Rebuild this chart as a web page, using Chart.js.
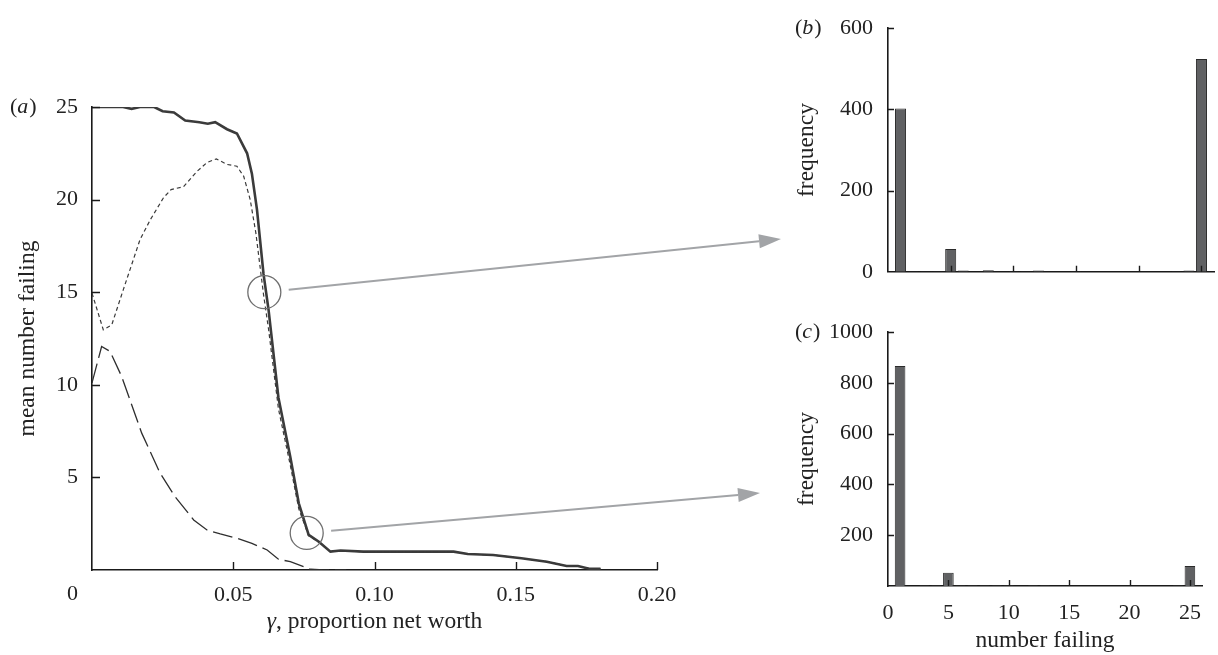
<!DOCTYPE html>
<html>
<head>
<meta charset="utf-8">
<script src="https://cdn.jsdelivr.net/npm/chart.js@4.4.1/dist/chart.umd.min.js"></script>
<style>
  html, body { margin: 0; padding: 0; background: #fff; }
  #wrap { position: relative; width: 1218px; height: 655px; overflow: hidden; }
  canvas { position: absolute; }
  #chart-a { left: 0; top: 0; }
  #chart-b { left: 760px; top: 0; }
  #chart-c { left: 760px; top: 300px; }
</style>
</head>
<body>
<div id="wrap">
  <canvas id="chart-a" width="1218" height="655"></canvas>
  <canvas id="chart-b" width="458" height="300"></canvas>
  <canvas id="chart-c" width="458" height="355"></canvas>
</div>
<script>
// (a) mean number failing against gamma, three curves
const gammaSolid = [0, 0.011, 0.014, 0.017, 0.022, 0.025, 0.029, 0.033, 0.038, 0.041, 0.0436, 0.0478, 0.0513, 0.0549, 0.0566, 0.0584, 0.0607, 0.0625, 0.066, 0.0702, 0.0732, 0.0767, 0.0803, 0.0844, 0.088, 0.096, 0.128, 0.133, 0.142, 0.152, 0.161, 0.168, 0.172, 0.176, 0.18];
const meanSolid = [25, 25, 24.9, 25, 25, 24.77, 24.7, 24.27, 24.18, 24.1, 24.18, 23.8, 23.57, 22.5, 21.4, 19.46, 16.0, 14.05, 9.3, 6.1, 3.6, 1.9, 1.53, 0.99, 1.05, 0.99, 0.99, 0.86, 0.81, 0.63, 0.45, 0.22, 0.22, 0.07, 0.07];

// short dashes; past 0.08 it runs under the solid curve
const gammaShort = [0, 0.004, 0.007, 0.011, 0.017, 0.0206, 0.0253, 0.028, 0.0324, 0.037, 0.0407, 0.044, 0.0478, 0.0513, 0.0537, 0.056, 0.058, 0.0607, 0.0625, 0.066, 0.0702, 0.0732, 0.0767, 0.0803, 0.0844, 0.088, 0.096, 0.128, 0.133, 0.142, 0.152, 0.161, 0.168, 0.172, 0.176, 0.18];
const meanShort = [14.95, 12.97, 13.24, 15.1, 17.84, 18.9, 20.1, 20.54, 20.7, 21.5, 22, 22.2, 21.9, 21.8, 21.26, 20, 18.2, 14.9, 13.0, 8.7, 5.65, 3.3, 1.85, 1.5, 0.99, 1.05, 0.99, 0.99, 0.86, 0.81, 0.63, 0.45, 0.22, 0.22, 0.07, 0.07];

const gammaLong = [0, 0.0034, 0.0064, 0.0105, 0.0176, 0.0241, 0.0294, 0.036, 0.0407, 0.0454, 0.0513, 0.0566, 0.062, 0.066, 0.0702, 0.0773, 0.082, 0.09];
const meanLong = [10.1, 12.07, 11.8, 10.45, 7.39, 5.23, 3.96, 2.7, 2.16, 1.95, 1.71, 1.44, 1.08, 0.58, 0.45, 0.04, 0, 0];

// points circled on (a)
const circledGamma = [0.061, 0.076];
const circledMean = [15, 2];

// (b) and (c) histograms
const numberFailing = [1, 2, 3, 4, 5, 6, 7, 8, 9, 10, 11, 12, 13, 14, 15, 16, 17, 18, 19, 20, 21, 22, 23, 24, 25];
const freqB = [402, 1, 1, 1, 56, 3, 0, 4, 0, 1, 1, 3, 0, 0, 1, 0, 0, 0, 0, 0, 0, 0, 1, 3, 524];
const freqC = [866, 0, 2, 2, 52, 2, 2, 2, 2, 2, 0, 2, 2, 0, 0, 0, 0, 0, 0, 0, 0, 0, 0, 2, 79];

const serif = '"Liberation Serif", "Times New Roman", serif';
Chart.defaults.font.family = serif;
Chart.defaults.font.size = 22;
Chart.defaults.color = '#222';
const titleFont = { size: 23.5 };

const toPoints = (xs, ys) => xs.map((x, i) => ({ x: x, y: ys[i] }));

// draws "(" + italic letter + ")"
function panelTag(ctx, letter, x, y) {
  ctx.save();
  ctx.fillStyle = '#222';
  ctx.textBaseline = 'middle';
  ctx.textAlign = 'left';
  ctx.font = '22px ' + serif;
  ctx.fillText('(', x, y);
  let w = ctx.measureText('(').width;
  ctx.font = 'italic 22px ' + serif;
  ctx.fillText(letter, x + w, y);
  w += ctx.measureText(letter).width + 1;
  ctx.font = '22px ' + serif;
  ctx.fillText(')', x + w, y);
  ctx.restore();
}

// tick marks pointing into the plot
function innerTicks(chart, len) {
  const ctx = chart.ctx;
  const xs = chart.scales.x, ys = chart.scales.y;
  const area = chart.chartArea;
  ctx.save();
  ctx.strokeStyle = '#1a1a1a';
  ctx.lineWidth = 1.4;
  ctx.beginPath();
  xs.ticks.forEach(t => {
    if (t.value <= xs.min) return;
    const px = Math.round(xs.getPixelForValue(t.value)) + 0.5;
    ctx.moveTo(px, area.bottom);
    ctx.lineTo(px, area.bottom - len);
  });
  ys.ticks.forEach(t => {
    if (t.value <= ys.min) return;
    const py = Math.round(ys.getPixelForValue(t.value)) + 0.5;
    ctx.moveTo(area.left, py);
    ctx.lineTo(area.left + len, py);
  });
  ctx.stroke();
  ctx.restore();
}

const panelA = {
  id: 'panelA',
  afterDraw(chart) {
    const ctx = chart.ctx;
    const xs = chart.scales.x, ys = chart.scales.y;
    const area = chart.chartArea;
    innerTicks(chart, 8);
    panelTag(ctx, 'a', 10, area.top);

    ctx.save();
    ctx.fillStyle = '#222';
    ctx.font = '22px ' + serif;
    ctx.textAlign = 'right';
    ctx.textBaseline = 'middle';
    ctx.fillText('0', area.left - 14, area.bottom + 24);

    // x title with italic gamma
    const rest = ', proportion net worth';
    ctx.font = 'italic 23.5px ' + serif;
    const gw = ctx.measureText('γ').width;
    ctx.font = '23.5px ' + serif;
    const rw = ctx.measureText(rest).width;
    const x0 = (area.left + area.right) / 2 - (gw + rw) / 2;
    ctx.textAlign = 'left';
    ctx.font = 'italic 23.5px ' + serif;
    ctx.fillText('γ', x0, 622);
    ctx.font = '23.5px ' + serif;
    ctx.fillText(rest, x0 + gw, 622);

    // circles and arrows towards (b) and (c)
    const tips = [[781, 239], [760, 493]];
    const r = 16.5;
    circledGamma.forEach((g, i) => {
      const cx = xs.getPixelForValue(g), cy = ys.getPixelForValue(circledMean[i]);
      ctx.strokeStyle = '#6f6f6f';
      ctx.lineWidth = 1.3;
      ctx.beginPath();
      ctx.arc(cx, cy, r, 0, Math.PI * 2);
      ctx.stroke();

      const [tx, ty] = tips[i];
      const dx = tx - cx, dy = ty - cy, len = Math.hypot(dx, dy);
      const ux = dx / len, uy = dy / len;
      const head = 22, hw = 7;
      ctx.strokeStyle = '#a2a4a7';
      ctx.fillStyle = '#a2a4a7';
      ctx.lineWidth = 1.9;
      ctx.beginPath();
      ctx.moveTo(cx + ux * (r + 8), cy + uy * (r + 8));
      ctx.lineTo(tx - ux * head, ty - uy * head);
      ctx.stroke();
      ctx.beginPath();
      ctx.moveTo(tx, ty);
      ctx.lineTo(tx - ux * head - uy * hw, ty - uy * head + ux * hw);
      ctx.lineTo(tx - ux * head + uy * hw, ty - uy * head - ux * hw);
      ctx.closePath();
      ctx.fill();
    });
    ctx.restore();
  }
};

new Chart(document.getElementById('chart-a'), {
  type: 'line',
  data: {
    datasets: [
      { data: toPoints(gammaLong, meanLong), borderColor: '#2e2e2e', borderWidth: 1.3, borderDash: [20, 6] },
      { data: toPoints(gammaShort, meanShort), borderColor: '#3a3a3a', borderWidth: 1.2, borderDash: [4, 3] },
      { data: toPoints(gammaSolid, meanSolid), borderColor: '#3b3b3b', borderWidth: 2.6 }
    ]
  },
  options: {
    responsive: false,
    animation: false,
    elements: { point: { radius: 0 }, line: { tension: 0 } },
    layout: { padding: { left: 0, top: 107, right: 561, bottom: 0 } },
    plugins: { legend: { display: false }, tooltip: { enabled: false } },
    scales: {
      x: {
        type: 'linear', min: 0, max: 0.2,
        grid: { display: false, drawTicks: false },
        border: { color: '#1a1a1a', width: 1.6 },
        ticks: { stepSize: 0.05, padding: 12, callback: v => v === 0 ? '' : v.toFixed(2) },
        afterFit: s => { s.height = 85; }
      },
      y: {
        min: 0, max: 25,
        grid: { display: false, drawTicks: false },
        border: { color: '#1a1a1a', width: 1.6 },
        ticks: { stepSize: 5, padding: 14, callback: v => v === 0 ? '' : v },
        title: { display: true, text: 'mean number failing', font: titleFont, padding: { top: 14, bottom: 0 } },
        afterFit: s => { s.width = 92; }
      }
    }
  },
  plugins: [panelA]
});

function histogram(id, values, yMax, tag, opts) {
  return new Chart(document.getElementById(id), {
    type: 'bar',
    data: {
      datasets: [{
        data: toPoints(numberFailing, values),
        backgroundColor: '#606163',
        borderColor: '#2b2b2b',
        borderWidth: 1,
        barPercentage: 0.88,
        categoryPercentage: 1
      }]
    },
    options: {
      responsive: false,
      animation: false,
      layout: { padding: opts.padding },
      plugins: { legend: { display: false }, tooltip: { enabled: false } },
      scales: {
        x: {
          type: 'linear', min: 0, max: 26, offset: false,
          grid: { display: false, drawTicks: false, offset: false },
          border: { color: '#1a1a1a', width: 1.6 },
          ticks: { display: opts.xLabels, stepSize: 5, includeBounds: false, padding: 14 },
          title: { display: opts.xLabels, text: 'number failing', font: titleFont, padding: { top: 0, bottom: 0 } },
          afterFit: s => { s.height = opts.xHeight; }
        },
        y: {
          min: 0, max: yMax,
          grid: { display: false, drawTicks: false },
          border: { color: '#1a1a1a', width: 1.6 },
          ticks: { stepSize: 200, padding: 15, callback: v => (v === 0 && !opts.yZero) ? '' : v },
          title: { display: true, text: 'frequency', font: titleFont, padding: { top: 33, bottom: 0 } },
          afterFit: s => { s.width = 128; }
        }
      }
    },
    plugins: [{
      id: 'tag-' + tag,
      afterDraw(chart) {
        innerTicks(chart, 6);
        panelTag(chart.ctx, tag, 35, chart.chartArea.top);
      }
    }]
  });
}

histogram('chart-b', freqB, 600, 'b', { padding: { left: 0, top: 22, right: 4, bottom: 23 }, xLabels: false, xHeight: 0, yZero: true });
histogram('chart-c', freqC, 1000, 'c', { padding: { left: 0, top: 32, right: 16, bottom: 0 }, xLabels: true, xHeight: 69, yZero: false });
</script>
</body>
</html>
